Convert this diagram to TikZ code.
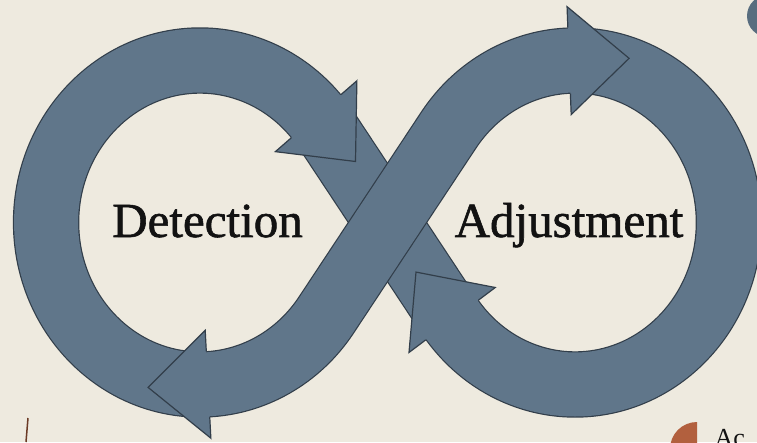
\documentclass[tikz,border=0pt]{standalone}
\usepackage{fontspec}
\setmainfont{Liberation Serif}
\newfontfamily\loopfont{Liberation Serif}[FakeBold=1.2]
\definecolor{paper}{RGB}{238,234,223}
\definecolor{slate}{RGB}{96,118,138}
\definecolor{slateedge}{RGB}{50,62,74}
\definecolor{ink}{RGB}{18,18,18}
\definecolor{rust}{RGB}{178,96,62}
\tikzset{
	band/.style={
		draw=slateedge,
		line width=1.2pt,
		double=slate,
		double distance=64pt,
		line cap=butt,
	},
	arrowhd/.pic={
		\fill[slate] (0,54) -- (60,0) -- (0,-54) -- cycle;
		\draw[slateedge, line width=1.2pt, line join=miter]
			(0,33) -- (0,54) -- (60,0) -- (0,-54) -- (0,-33);
	},
	loopname/.style={
		font=\loopfont\fontsize{49}{58}\selectfont,
		text=ink,
		anchor=base,
	},
}

\begin{document}
\begin{tikzpicture}[x=1pt,y=1pt]
	\useasboundingbox (0,0) rectangle (757,442);
	\clip (0,0) rectangle (757,442);
	\fill[paper] (0,0) rectangle (757,442);

	% bits of the neighbouring slide
	\fill[slate!92!black] (768,426) circle (21);
	\fill[rust] (697,20) arc[start angle=90, end angle=270, radius=27] -- cycle;
	\draw[rust!60!black, line width=1.5pt] (28,24) -- (26,0);
	\node[font=\fontsize{26}{30}\selectfont, text=ink, anchor=base west] (nextstep) at (711,-4) {Ac};

	\begin{scope}[shift={(387.5,219.5)}, xscale=0.95]
		\coordinate (cl) at (-197.4,0);
		\coordinate (cr) at (197.4,0);
		% where the straight strands leave the loops
		\coordinate (t2) at (-64.45,-92.54);
		\coordinate (t4) at (64.45,-92.54);

		% the two loops
		\draw[band] (cl) ++(-89:162) arc[start angle=-89, end angle=-320, radius=162];
		\draw[band] (cr) ++(90:162) arc[start angle=90, end angle=-144, radius=162];

		% strand passing under
		\draw[band] (cl) ++(39:162) arc[start angle=39, end angle=34.84, radius=162]
			-- (t4) arc[start angle=214.84, end angle=216, radius=162];
		% strand passing over
		\draw[band] (cr) ++(91.2:162) arc[start angle=91.2, end angle=145.16, radius=162]
			-- (t2) arc[start angle=-34.84, end angle=-88, radius=162];

		% heads
		\path (cl) ++(41:162) pic[rotate=-49] {arrowhd};
		\path (cl) ++(-87:162) pic[rotate=-177] {arrowhd};
		\path (cr) ++(92.2:162) pic[rotate=2.2] {arrowhd};
		\path (cr) ++(217:162) pic[rotate=127] {arrowhd};
	\end{scope}

	\node[loopname] (detect) at (207.5,205) {Detection};
	\node[loopname] (adjust) at (569,205) {Adjustment};
\end{tikzpicture}
\end{document}
